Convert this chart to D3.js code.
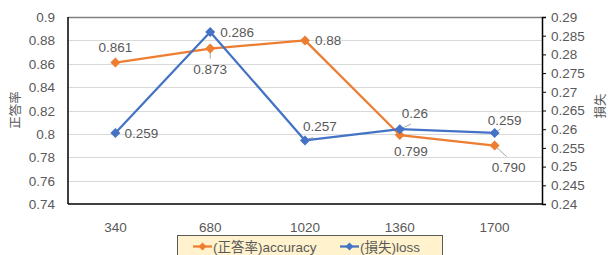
<!DOCTYPE html>
<html>
<head>
<meta charset="utf-8">
<style>
  body { margin: 0; background: #fff; }
  text { font-family: "Liberation Sans", Arial, "Noto Sans CJK JP", sans-serif; fill: #595959; }
</style>
</head>
<body>
<div id="chart"></div>
<script src="https://d3js.org/d3.v7.min.js"></script>
<script>
var categories = ["340", "680", "1020", "1360", "1700"];
var accuracy = [0.861, 0.873, 0.88, 0.799, 0.790];
var loss = [0.259, 0.286, 0.257, 0.26, 0.259];
var accLabels = ["0.861", "0.873", "0.88", "0.799", "0.790"];
var lossLabels = ["0.259", "0.286", "0.257", "0.26", "0.259"];
var leftTicks = [0.74, 0.76, 0.78, 0.8, 0.82, 0.84, 0.86, 0.88, 0.9];
var rightTicks = [0.24, 0.245, 0.25, 0.255, 0.26, 0.265, 0.27, 0.275, 0.28, 0.285, 0.29];

// label offsets relative to the marker (dx, dy of baseline, anchor)
var accPos = [[0, -11, "middle"], [0, 25, "middle"], [10, 5, "start"], [11, 21, "middle"], [14, 26, "middle"]];
var lossPos = [[9, 5, "start"], [10, 5, "start"], [15, -9, "middle"], [15, -11, "middle"], [10, -8, "middle"]];

var W = 608, H = 255;
var m = { left: 68, right: 542, top: 17, bottom: 204 };

var svg = d3.select("#chart").append("svg").attr("width", W).attr("height", H);

var x = d3.scaleBand().domain(categories).range([m.left, m.right]);
var yL = d3.scaleLinear().domain([0.74, 0.9]).range([m.bottom, m.top]);
var yR = d3.scaleLinear().domain([0.24, 0.29]).range([m.bottom, m.top]);
var cx = function(i) { return x(categories[i]) + x.bandwidth() / 2; };

// gridlines
svg.append("g").selectAll("line").data(leftTicks.slice(1, -1)).enter().append("line")
  .attr("x1", m.left).attr("x2", m.right)
  .attr("y1", function(d) { return Math.round(yL(d)) + 0.5; })
  .attr("y2", function(d) { return Math.round(yL(d)) + 0.5; })
  .attr("stroke", "#d9d9d9").attr("stroke-width", 1);

// frame
svg.append("line").attr("x1", m.left).attr("x2", m.right).attr("y1", m.top + 0.5).attr("y2", m.top + 0.5)
  .attr("stroke", "#808080").attr("stroke-width", 1.5);
svg.append("line").attr("x1", m.left).attr("x2", m.right).attr("y1", m.bottom).attr("y2", m.bottom)
  .attr("stroke", "#000").attr("stroke-width", 1.5);
svg.append("line").attr("x1", m.left).attr("x2", m.left).attr("y1", m.top).attr("y2", m.bottom)
  .attr("stroke", "#000").attr("stroke-width", 1.5);

// left axis labels
svg.append("g").selectAll("text").data(leftTicks).enter().append("text")
  .attr("x", m.left - 13).attr("y", function(d) { return yL(d) + 5; })
  .attr("text-anchor", "end").attr("font-size", 13.5)
  .text(function(d) { return d3.format("")(d); });

// right axis
var rAxis = svg.append("g").attr("transform", "translate(" + m.right + ",0)")
  .call(d3.axisRight(yR).tickValues(rightTicks).tickSize(4).tickFormat(function(d) { return d3.format("")(+d.toFixed(3)); }));
rAxis.select(".domain").attr("stroke", "#000").attr("stroke-width", 1.5);
rAxis.selectAll(".tick line").attr("stroke", "#000");
rAxis.selectAll(".tick text").attr("font-size", 13.5).attr("fill", "#595959").attr("x", 9)
  .attr("font-family", "Liberation Sans, Arial, sans-serif");

// x labels
svg.append("g").selectAll("text").data(categories).enter().append("text")
  .attr("x", function(d, i) { return cx(i); }).attr("y", 232)
  .attr("text-anchor", "middle").attr("font-size", 13.5).text(function(d) { return d; });

// axis titles
svg.append("text").attr("transform", "translate(20,110) rotate(-90)")
  .attr("text-anchor", "middle").attr("font-size", 12.5).text("正答率");
svg.append("text").attr("transform", "translate(605,106) rotate(-90)")
  .attr("text-anchor", "middle").attr("font-size", 12.5).text("損失");

var diamond = "M0,-5L5,0L0,5L-5,0Z";

function series(vals, y, color) {
  var line = d3.line().x(function(d, i) { return cx(i); }).y(function(d) { return y(d); });
  svg.append("path").datum(vals).attr("d", line).attr("fill", "none")
    .attr("stroke", color).attr("stroke-width", 2.25).attr("stroke-linejoin", "round");
  svg.append("g").selectAll("path").data(vals).enter().append("path")
    .attr("d", diamond).attr("fill", color)
    .attr("transform", function(d, i) { return "translate(" + cx(i) + "," + y(d) + ")"; });
}

function labels(vals, y, texts, pos) {
  svg.append("g").selectAll("text").data(vals).enter().append("text")
    .attr("x", function(d, i) { return cx(i) + pos[i][0]; })
    .attr("y", function(d, i) { return y(d) + pos[i][1]; })
    .attr("text-anchor", function(d, i) { return pos[i][2]; })
    .attr("font-size", 13.5).attr("fill", "#404040")
    .text(function(d, i) { return texts[i]; });
}

// leader lines (grey, short)
function leader(i, v, y, dx, dy) {
  svg.append("line").attr("x1", cx(i)).attr("y1", y(v)).attr("x2", cx(i) + dx).attr("y2", y(v) + dy)
    .attr("stroke", "#a6a6a6").attr("stroke-width", 1);
}
leader(1, accuracy[1], yL, 0, 10);
leader(4, accuracy[4], yL, 12, 11);
leader(3, loss[3], yR, 11, -5);
leader(4, loss[4], yR, 6, -4);
leader(2, loss[2], yR, 8, -3);

series(accuracy, yL, "#ED7D31");
series(loss, yR, "#4472C4");
labels(accuracy, yL, accLabels, accPos);
labels(loss, yR, lossLabels, lossPos);

// legend
var lg = svg.append("g");
lg.append("rect").attr("x", 177.5).attr("y", 235.5).attr("width", 265).attr("height", 30)
  .attr("fill", "#fff2cc").attr("stroke", "#595959").attr("stroke-width", 1);
var items = [["(正答率)accuracy", "#ED7D31", 193], ["(損失)loss", "#4472C4", 340]];
items.forEach(function(it) {
  lg.append("line").attr("x1", it[2]).attr("x2", it[2] + 19).attr("y1", 246.5).attr("y2", 246.5)
    .attr("stroke", it[1]).attr("stroke-width", 2.25);
  lg.append("path").attr("d", "M0,-4L4,0L0,4L-4,0Z").attr("fill", it[1])
    .attr("transform", "translate(" + (it[2] + 9.5) + ",246.5)");
  lg.append("text").attr("x", it[2] + 20).attr("y", 251.5).attr("font-size", 13.5).text(it[0]);
});
</script>
</body>
</html>
